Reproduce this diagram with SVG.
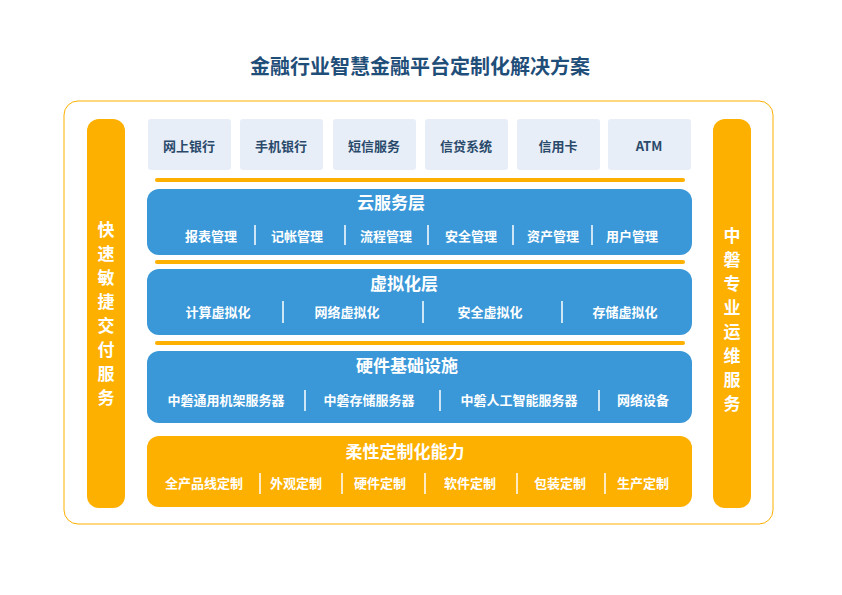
<svg xmlns="http://www.w3.org/2000/svg" width="842" height="595" viewBox="0 0 842 595">
<style>
text{font-family:"Noto Sans CJK SC","Noto Sans",sans-serif;font-weight:bold;text-anchor:middle}
.title{font-size:20px;fill:#1f4e79}
.tb{fill:#e8eef8}
.tbt{font-size:13px;fill:#2a4a6b}
.blue{fill:#3a98d8}
.org{fill:#fdb000}
.lt{font-size:17px;fill:#fff}
.it{font-size:13px;fill:#fff}
.vt{font-size:17px;fill:#fff}
.sep{stroke:#fff;stroke-width:1.5}
.ol{stroke:#fdb000;stroke-width:4;stroke-linecap:round}
</style>
<rect width="842" height="595" fill="#fff"/>
<text class="title" x="420" y="74">金融行业智慧金融平台定制化解决方案</text>
<rect x="64" y="101" width="709" height="423" rx="14" fill="none" stroke="#fdb000" stroke-width="1"/>
<g id="left"><rect class="org" x="87" y="119" width="38" height="389" rx="12"/>
<text class="vt" x="106" y="236">快</text><text class="vt" x="106" y="260">速</text><text class="vt" x="106" y="284">敏</text><text class="vt" x="106" y="308">捷</text><text class="vt" x="106" y="332">交</text><text class="vt" x="106" y="356">付</text><text class="vt" x="106" y="380">服</text><text class="vt" x="106" y="404">务</text></g>
<g id="right"><rect class="org" x="713" y="119" width="38" height="389" rx="12"/>
<text class="vt" x="732" y="242">中</text><text class="vt" x="732" y="266">磐</text><text class="vt" x="732" y="290">专</text><text class="vt" x="732" y="314">业</text><text class="vt" x="732" y="338">运</text><text class="vt" x="732" y="362">维</text><text class="vt" x="732" y="386">服</text><text class="vt" x="732" y="410">务</text></g>
<g id="apps">
<rect class="tb" x="148" y="119" width="83" height="51" rx="3"/><text class="tbt" x="189" y="151">网上银行</text>
<rect class="tb" x="240" y="119" width="83" height="51" rx="3"/><text class="tbt" x="281" y="151">手机银行</text>
<rect class="tb" x="333" y="119" width="83" height="51" rx="3"/><text class="tbt" x="374" y="151">短信服务</text>
<rect class="tb" x="425" y="119" width="83" height="51" rx="3"/><text class="tbt" x="466" y="151">信贷系统</text>
<rect class="tb" x="517" y="119" width="83" height="51" rx="3"/><text class="tbt" x="558" y="151">信用卡</text>
<rect class="tb" x="608" y="119" width="83" height="51" rx="3"/><text class="tbt" x="649" y="151">ATM</text>
</g>
<g id="connectors">
<line class="ol" x1="157" y1="180" x2="683" y2="180"/>
<line class="ol" x1="157" y1="262" x2="683" y2="262"/>
<line class="ol" x1="157" y1="343" x2="683" y2="343"/>
</g>
<g id="cloud"><rect class="blue" x="147" y="189" width="545" height="66" rx="12"/>
<text class="lt" x="391" y="209">云服务层</text>
<text class="it" x="211" y="241">报表管理</text><text class="it" x="297" y="241">记帐管理</text><text class="it" x="386" y="241">流程管理</text><text class="it" x="471" y="241">安全管理</text><text class="it" x="553" y="241">资产管理</text><text class="it" x="632" y="241">用户管理</text>
<line class="sep" x1="255" y1="225" x2="255" y2="245"/><line class="sep" x1="345" y1="225" x2="345" y2="245"/><line class="sep" x1="428" y1="225" x2="428" y2="245"/><line class="sep" x1="513" y1="225" x2="513" y2="245"/><line class="sep" x1="592" y1="225" x2="592" y2="245"/></g>
<g id="virtual"><rect class="blue" x="147" y="269" width="545" height="66" rx="12"/>
<text class="lt" x="404" y="290">虚拟化层</text>
<text class="it" x="218" y="317">计算虚拟化</text><text class="it" x="347" y="317">网络虚拟化</text><text class="it" x="490" y="317">安全虚拟化</text><text class="it" x="625" y="317">存储虚拟化</text>
<line class="sep" x1="283" y1="301" x2="283" y2="323"/><line class="sep" x1="423" y1="301" x2="423" y2="323"/><line class="sep" x1="562" y1="301" x2="562" y2="323"/></g>
<g id="hardware"><rect class="blue" x="147" y="351" width="545" height="72" rx="12"/>
<text class="lt" x="407" y="372">硬件基础设施</text>
<text class="it" x="226" y="405">中磐通用机架服务器</text><text class="it" x="369" y="405">中磐存储服务器</text><text class="it" x="519" y="405">中磐人工智能服务器</text><text class="it" x="643" y="405">网络设备</text>
<line class="sep" x1="305" y1="390" x2="305" y2="411"/><line class="sep" x1="440" y1="390" x2="440" y2="411"/><line class="sep" x1="599" y1="390" x2="599" y2="411"/></g>
<g id="flex"><rect class="org" x="147" y="436" width="545" height="71" rx="12"/>
<text class="lt" x="405" y="458">柔性定制化能力</text>
<text class="it" x="204" y="488">全产品线定制</text><text class="it" x="296" y="488">外观定制</text><text class="it" x="380" y="488">硬件定制</text><text class="it" x="470" y="488">软件定制</text><text class="it" x="560" y="488">包装定制</text><text class="it" x="643" y="488">生产定制</text>
<line class="sep" x1="260" y1="473" x2="260" y2="494"/><line class="sep" x1="342" y1="473" x2="342" y2="494"/><line class="sep" x1="425" y1="473" x2="425" y2="494"/><line class="sep" x1="517" y1="473" x2="517" y2="494"/><line class="sep" x1="605" y1="473" x2="605" y2="494"/></g>
</svg>
